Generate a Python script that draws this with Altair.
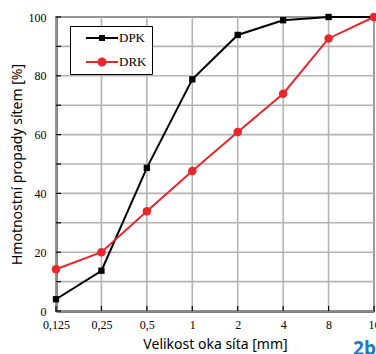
import altair as alt
import pandas as pd

# ---- data ----
sieve = [0.125, 0.25, 0.5, 1, 2, 4, 8, 16]
dpk = [4.0, 13.7, 48.7, 78.8, 93.9, 98.9, 100, 100]
drk = [14.2, 20.0, 33.9, 47.6, 60.9, 73.9, 92.7, 100]
series_names = ["DPK", "DRK"]
series_colors = ["#000000", "#e8262b"]
x_ticks = [0.125, 0.25, 0.5, 1, 2, 4, 8, 16]
y_ticks = list(range(0, 101, 10))

df = pd.DataFrame({
    "size": sieve + sieve,
    "pass": dpk + drk,
    "series": ["DPK"] * len(sieve) + ["DRK"] * len(sieve),
})
xt_df = pd.DataFrame({"size": x_ticks})
yt_df = pd.DataFrame({"pass": y_ticks})

# legend symbols: line + marker (custom paths, unit = half symbol size)
legend_paths = [
    "M-2.286,-0.143H2.286V0.143H-2.286Z M-0.43,-0.43H0.43V0.43H-0.43Z",
    "M-2.286,-0.143H-0.5V0.143H-2.286Z M0.5,-0.143H2.286V0.143H0.5Z "
    "M0.643,0A0.643,0.643 0 1 1 -0.643,0A0.643,0.643 0 1 1 0.643,0Z",
]

serif = "Liberation Serif"
sans = "Noto Sans"
grid_col = "#b4b4b4"
W, H = 318, 294

x_scale = alt.Scale(type="log", base=2, domain=[0.125, 16], nice=False)
y_scale = alt.Scale(domain=[0, 100], nice=False)

x_enc = alt.X(
    "size:Q", scale=x_scale,
    axis=alt.Axis(
        values=x_ticks, grid=False,
        labelExpr="replace(toString(datum.value), '.', ',')",
        title="Velikost oka síta [mm]",
        labelFont=serif, labelFontSize=12, labelColor="black",
        labelPadding=8, ticks=False, labelFlush=False,
        titleFont=sans, titleFontSize=14, titleFontWeight="normal",
        titleColor="black", titlePadding=7,
        domainColor="black", domainWidth=2, labelOverlap=False,
    ),
)
y_enc = alt.Y(
    "pass:Q", scale=y_scale,
    axis=alt.Axis(
        values=y_ticks, grid=False,
        labelExpr="datum.value % 20 == 0 ? datum.label : ''",
        title="Hmotnostní propady sítem [%]",
        labelFont=serif, labelFontSize=12, labelColor="black",
        labelPadding=10, ticks=False, labelFlush=False,
        titleFont=sans, titleFontSize=14, titleFontWeight="normal",
        titleColor="black", titlePadding=4,
        domainColor="black", domainWidth=2,
    ),
)

# grid lines and inward ticks, drawn from the tick arrays
x_grid = alt.Chart(xt_df).mark_rule(color=grid_col, strokeWidth=1.6, opacity=1).encode(
    x=x_enc, y=alt.value(0), y2=alt.value(H))
y_grid = alt.Chart(yt_df).mark_rule(color=grid_col, strokeWidth=1.6, opacity=1).encode(
    y=y_enc, x=alt.value(0), x2=alt.value(W))
x_tk = alt.Chart(xt_df).mark_rule(color="#000000", strokeWidth=1.2).encode(
    x=x_enc, y=alt.value(H), y2=alt.value(H - 5))
y_tk = alt.Chart(yt_df).mark_rule(color="#000000", strokeWidth=1.2).encode(
    y=y_enc, x=alt.value(0), x2=alt.value(5))

base = alt.Chart(df)
layers = [x_grid, y_grid, x_tk, y_tk]
shapes = ["square", "circle"]
sizes = [40, 72]
for name, col, shp, sz in zip(series_names, series_colors, shapes, sizes):
    sub = base.transform_filter(alt.datum.series == name)
    layers.append(sub.mark_line(color=col, strokeWidth=2).encode(x=x_enc, y=y_enc))
    layers.append(sub.mark_point(shape=shp, filled=True, color=col, size=sz, opacity=1)
                  .encode(x=x_enc, y=y_enc))

leg = dict(title=None, orient="none", legendX=14, legendY=9,
           strokeColor="black", fillColor="white", padding=5,
           rowPadding=10, symbolOffset=20, labelOffset=10,
           labelFont=serif, labelFontSize=13, labelColor="black",
           symbolSize=196, symbolStrokeWidth=0, symbolOpacity=1)

legend_layer = base.transform_filter("datum.pass < -1000").mark_point(filled=True, opacity=1).encode(
    x=x_enc, y=y_enc,
    color=alt.Color("series:N", scale=alt.Scale(domain=series_names, range=series_colors),
                    legend=alt.Legend(**leg)),
    shape=alt.Shape("series:N", scale=alt.Scale(domain=series_names, range=legend_paths),
                    legend=alt.Legend(**leg)),
)

chart = alt.layer(*layers, legend_layer).properties(
    width=W, height=H,
    background="white",
    autosize=alt.AutoSizeParams(type="none"),
    padding={"left": 56, "top": 17, "right": 2, "bottom": 43},
    title=alt.TitleParams(text="2b", orient="bottom", anchor="end", font=sans,
                          fontSize=19, fontWeight="bold", color="#1b7cc2",
                          offset=-11, dx=-4),
).configure_view(stroke="black", strokeWidth=1.5)

chart.save("out.html", embed_options={"renderer": "svg", "actions": False})
